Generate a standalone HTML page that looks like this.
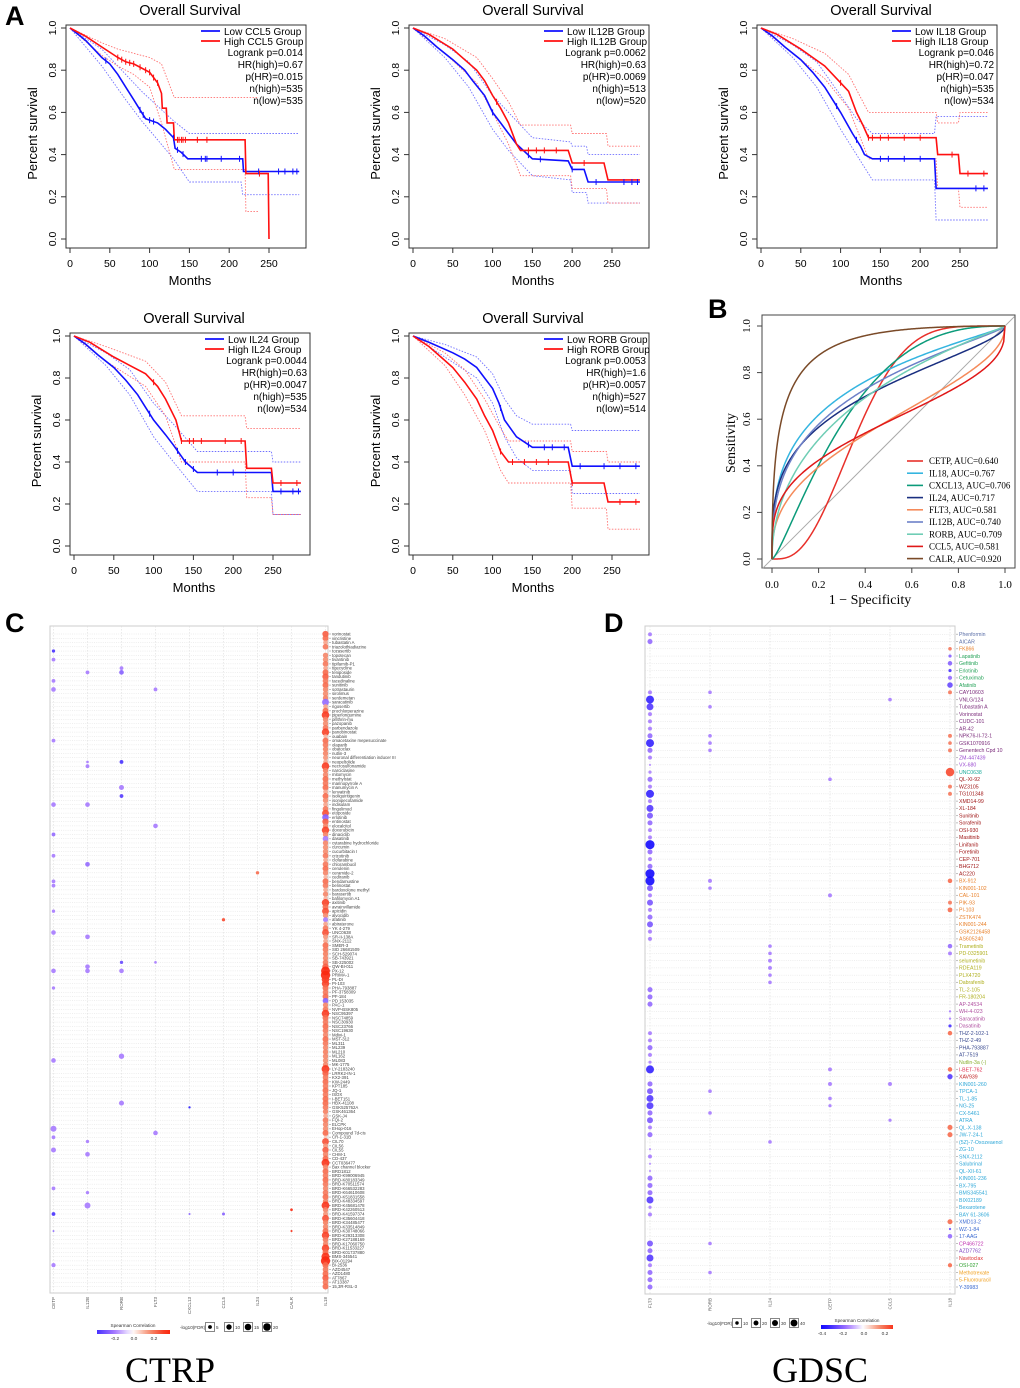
<!DOCTYPE html>
<html><head><meta charset="utf-8">
<style>
html,body{margin:0;padding:0;background:#fff;}
svg{display:block;font-family:"Liberation Sans",Arial,sans-serif;}
</style></head>
<body>
<svg id="fig" width="1020" height="1388" viewBox="0 0 1020 1388" xmlns="http://www.w3.org/2000/svg">
<rect x="0" y="0" width="1020" height="1388" fill="#fff"/>
<text x="5" y="25" font-size="27" font-weight="bold">A</text>
<text x="708" y="318" font-size="27" font-weight="bold">B</text>
<text x="5" y="632" font-size="27" font-weight="bold">C</text>
<text x="604" y="632" font-size="27" font-weight="bold">D</text>
<text x="170" y="1382" font-size="36" text-anchor="middle" font-family="Liberation Serif,serif">CTRP</text>
<text x="820" y="1382" font-size="36" text-anchor="middle" font-family="Liberation Serif,serif">GDSC</text>
</svg>
<script>
// ================= KM data =================
const kmGenes = ["CCL5","IL12B","IL18","IL24","RORB"];
const kmLogrank = ["0.014","0.0062","0.046","0.0044","0.0053"];
const kmHR = ["0.67","0.63","0.72","0.63","1.6"];
const kmPHR = ["0.015","0.0069","0.047","0.0047","0.0057"];
const kmNHigh = ["535","513","535","535","527"];
const kmNLow = ["535","520","534","534","514"];
const kmXTicks = [0,50,100,150,200,250];
const kmYTicks = [0,0.2,0.4,0.6,0.8,1.0];
const kmLow = [
 [[0,1],[10,0.97],[20,0.94],[30,0.9],[40,0.86],[50,0.83],[60,0.78],[70,0.72],[80,0.66],[90,0.6],[95,0.57],[110,0.55],[120,0.52],[130,0.48],[132,0.43],[140,0.41],[148,0.38],[217,0.38],[218,0.32],[288,0.32]],
 [[0,1],[15,0.96],[30,0.91],[50,0.85],[65,0.8],[75,0.75],[90,0.68],[100,0.6],[110,0.55],[120,0.5],[130,0.45],[150,0.38],[195,0.37],[200,0.33],[215,0.33],[220,0.27],[285,0.27]],
 [[0,1],[15,0.96],[30,0.91],[50,0.85],[65,0.79],[80,0.72],[90,0.66],[100,0.6],[115,0.5],[125,0.44],[130,0.4],[140,0.38],[218,0.38],[220,0.24],[285,0.24]],
 [[0,1],[15,0.96],[30,0.91],[50,0.85],[65,0.79],[80,0.72],[90,0.66],[100,0.6],[115,0.53],[125,0.48],[140,0.4],[155,0.35],[248,0.35],[250,0.26],[285,0.26]],
 [[0,1],[20,0.97],[50,0.92],[65,0.89],[80,0.85],[90,0.8],[100,0.75],[108,0.68],[115,0.6],[130,0.52],[150,0.47],[195,0.47],[200,0.38],[285,0.38]]
];
const kmHigh = [
 [[0,1],[20,0.96],[40,0.91],[60,0.86],[70,0.84],[80,0.83],[100,0.79],[110,0.74],[115,0.69],[116,0.62],[121,0.62],[122,0.55],[130,0.55],[131,0.47],[220,0.47],[221,0.31],[249,0.31],[250,0]],
 [[0,1],[20,0.97],[50,0.9],[65,0.85],[80,0.8],[90,0.75],[100,0.68],[110,0.62],[120,0.55],[130,0.45],[135,0.42],[195,0.42],[200,0.36],[240,0.36],[245,0.28],[285,0.28]],
 [[0,1],[20,0.97],[50,0.9],[65,0.86],[80,0.82],[95,0.76],[110,0.7],[120,0.6],[128,0.54],[135,0.48],[220,0.48],[222,0.4],[248,0.4],[250,0.31],[285,0.31]],
 [[0,1],[20,0.97],[50,0.9],[70,0.86],[90,0.82],[105,0.76],[115,0.7],[128,0.6],[135,0.5],[215,0.5],[217,0.37],[248,0.37],[250,0.3],[285,0.3]],
 [[0,1],[20,0.95],[35,0.9],[50,0.85],[65,0.78],[80,0.7],[90,0.62],[100,0.55],[110,0.45],[120,0.4],[195,0.4],[200,0.3],[240,0.3],[245,0.21],[285,0.21]]
];
const kmLowUp = [
 [[0,1],[40,0.9],[70,0.78],[90,0.7],[110,0.63],[130,0.56],[150,0.5],[288,0.5]],
 [[0,1],[40,0.92],[70,0.84],[100,0.68],[120,0.6],[150,0.48],[198,0.46],[200,0.44],[218,0.44],[220,0.4],[285,0.4]],
 [[0,1],[40,0.92],[70,0.84],[100,0.68],[120,0.57],[140,0.5],[218,0.5],[220,0.58],[285,0.58]],
 [[0,1],[40,0.92],[70,0.84],[100,0.68],[125,0.58],[155,0.45],[248,0.45],[250,0.4],[285,0.4]],
 [[0,1],[40,0.96],[80,0.9],[100,0.82],[115,0.7],[130,0.62],[150,0.58],[198,0.58],[200,0.55],[285,0.55]]
];
const kmLowLo = [
 [[0,1],[40,0.82],[70,0.66],[90,0.56],[110,0.47],[130,0.38],[150,0.27],[215,0.27],[217,0.21],[288,0.21]],
 [[0,1],[40,0.86],[70,0.72],[100,0.52],[120,0.42],[150,0.3],[198,0.28],[200,0.22],[218,0.22],[220,0.17],[285,0.17]],
 [[0,1],[40,0.86],[70,0.72],[100,0.52],[120,0.4],[140,0.28],[218,0.28],[220,0.09],[285,0.09]],
 [[0,1],[40,0.86],[70,0.72],[100,0.52],[125,0.4],[155,0.26],[248,0.26],[250,0.15],[285,0.15]],
 [[0,1],[40,0.9],[80,0.8],[100,0.68],[115,0.52],[130,0.42],[150,0.36],[198,0.36],[200,0.25],[285,0.25]]
];
const kmHighUp = [
 [[0,1],[40,0.93],[60,0.9],[80,0.88],[100,0.86],[115,0.83],[131,0.67],[237,0.67]],
 [[0,1],[40,0.95],[80,0.86],[100,0.76],[120,0.65],[135,0.54],[198,0.54],[200,0.5],[243,0.5],[245,0.44],[285,0.44]],
 [[0,1],[40,0.95],[80,0.88],[110,0.78],[128,0.65],[135,0.6],[220,0.6],[222,0.55],[248,0.55],[250,0.6],[285,0.6]],
 [[0,1],[40,0.95],[90,0.88],[115,0.78],[135,0.62],[215,0.62],[217,0.56],[285,0.56]],
 [[0,1],[40,0.92],[65,0.84],[90,0.7],[110,0.56],[120,0.5],[198,0.5],[200,0.45],[243,0.45],[245,0.4],[285,0.4]]
];
const kmHighLo = [
 [[0,1],[40,0.87],[60,0.82],[80,0.78],[100,0.72],[115,0.55],[131,0.33],[220,0.33],[221,0.13],[237,0.13]],
 [[0,1],[40,0.88],[80,0.74],[100,0.6],[120,0.45],[135,0.3],[198,0.3],[200,0.24],[243,0.24],[245,0.17],[285,0.17]],
 [[0,1],[40,0.88],[80,0.76],[110,0.62],[128,0.45],[135,0.38],[220,0.38],[222,0.24],[248,0.24],[250,0.15],[285,0.15]],
 [[0,1],[40,0.88],[90,0.76],[115,0.62],[135,0.4],[215,0.4],[217,0.23],[248,0.23],[250,0.15],[285,0.15]],
 [[0,1],[40,0.86],[65,0.72],[90,0.55],[110,0.36],[120,0.3],[198,0.3],[200,0.18],[243,0.18],[245,0.08],[285,0.08]]
];
const kmCensorLow = [
 [45,88,92,100,105,130,135,142,165,170,172,190,213,237,262,270,280,285],
 [100,145,160,200,230,265,275,282],
 [95,120,150,160,180,200,270,280],
 [95,130,140,150,180,200,260,275,282],
 [110,145,165,175,190,210,240,260,280]
];
const kmCensorHigh = [
 [60,65,70,75,80,88,95,100,105,110,135,137,140,142,145,160,172,238],
 [105,145,155,165,180,215],
 [100,135,140,150,160,180,200,240,260,280],
 [100,135,145,150,160,190,210,260,280],
 [110,125,140,155,170,200,260,280]
];
// ================= ROC data =================
const rocGenes = ["CETP","IL18","CXCL13","IL24","FLT3","IL12B","RORB","CCL5","CALR"];
const rocAUC = [0.640,0.767,0.706,0.717,0.581,0.740,0.709,0.581,0.920];
const rocSlope = [2.2,0.7,1.4,0.6,0.6,0.7,0.8,0.5,1.0];
const rocTicks = [0,0.2,0.4,0.6,0.8,1.0];
// ================= CTRP bubble data =================
const cGenes = ["CETP","IL12B","RORB","FLT3","CXCL13","CCL5","IL24","CALR","IL18"];
const cDrugs = ["vorinostat","vincristine","tubastatin A","triazolothiadiazine","tozasertib","topotecan","tivantinib","tipifarnib-P1","tigecycline","teniposide",
"tandutinib","tacedinaline","sunitinib","sotrastaurin","sirolimus","serdemetan","saracatinib","rigosertib","prochlorperazine","piperlongumine",
"pifithrin-mu","pazopanib","parbendazole","panobinostat","ouabain","omacetaxine mepesuccinate","olaparib","obatoclax","nutlin-3","neuronal differentiation inducer III",
"neopeltolide","necrosulfonamide","narciclasine","mitomycin","methylstat","marinopyrrole A","manumycin A","lenvatinib","isoliquiritigenin","isonipecotamide",
"indisulam","fingolimod","etoposide","erlotinib","entinostat","elocalcitol","doxorubicin","dinaciclib","dasatinib","cytarabine hydrochloride",
"curcumin","cucurbitacin I","crizotinib","clofarabine","chlorambucil","cerulenin","ceramide-2","cediranib","bendamustine","belinostat",
"bardoxolone methyl","barasertib","bafilomycin A1","axitinib","avrainvillamide","apicidin","alvocidib","afatinib","abiraterone","YK 4-279",
"UNC0638","SR-II-138A","SNX-2112","SMER-3","SID 26681509","SCH-529074","SB-743921","SB-225002","QW-BI-011","PX-12",
"PRIMA-1","PL-DI","PI-103","PHA-793887","PF-3758309","PF-184","PD 153035","PAC-1","NVP-BSK805","NSC95397",
"NSC74859","NSC30930","NSC23766","NSC19630","Mdivi-1","MST-312","ML311","ML239","ML210","ML162",
"ML083","MK-1775","LY-2183240","LRRK2-IN-1","KX2-391","KW-2449","KPT185","JQ-1","ISOX","I-BET151",
"HBX-41108","GSK525762A","GSK461364","GSK-J4","FQI-2","ELCPK","EHop-016","Compound 7d-cis","CR-1-31B","CIL70",
"CIL56","CIL55","CHM-1","CD-437","CCT036477","Bax channel blocker","BRD1812","BRD-K99006945","BRD-K80183349","BRD-K70511574",
"BRD-K66532283","BRD-K64610608","BRD-K51831558","BRD-K48334597","BRD-K45681478","BRD-K42260513","BRD-K41597374","BRD-K35604418","BRD-K34485477","BRD-K33514849",
"BRD-K30748066","BRD-K29313308","BRD-K27188169","BRD-K17060750","BRD-K11533227","BRD-K01737880","BMS-345541","BIX-01294","BI-2536","AZD4547",
"AZD1480","AT7867","AT13387","15,3R-RSL-3"];
const cIL18Corr = [0.22,0.2,0.12,0.18,0,0.16,0.15,0.18,0.12,0.2,
 0.22,0.18,0.2,0.16,0.15,0.17,-0.18,0.12,0.2,0.27,
 0.16,0.15,0.18,0.26,0.1,0.2,0.18,0.17,0.16,0.14,
 0.12,0.27,0.17,0.16,0.2,0.18,0.2,0.12,0.2,0.15,
 0.12,0.18,0.24,-0.2,0.22,0.16,0.26,0.16,-0.15,0.16,
 0.15,0.15,0.18,0.12,0.18,0.2,0.16,0.1,0.2,0.18,
 0.12,0.16,0.1,0.26,0.2,0.24,0.15,-0.15,0.12,0.18,
 0.24,0.14,0.12,0.2,0.18,0.17,0.16,0.18,0.22,0.3,
 0.3,0.27,0.26,0.2,0.18,0.2,-0.2,0.16,0.18,0.27,
 0.2,0.18,0.2,0.18,0.16,0.2,0.18,0.16,0.17,0.16,
 0.15,0.16,0.28,0.22,0.18,0.2,0.18,0.2,0.18,0.2,
 0.2,0.18,0.17,0.12,0.18,0.16,0.15,0.2,0.08,0.24,
 0.14,0.22,0.16,0.2,0.28,0.16,0.2,0.18,0.2,0.18,
 0.16,0.18,0.2,0.17,0.28,0.16,0.14,0.24,0.17,0.16,
 0.2,0.26,0.18,0.16,0.26,0.2,0.28,0.3,0.2,0.18,
 0.2,0.22,0.18,0.2];
const cIL18Fdr = [11,10,6,9,0,8,8,9,6,10,
 11,9,10,8,8,8,13,6,10,16,
 8,8,9,15,5,10,9,8,8,7,
 6,16,8,8,10,9,10,6,10,8,
 6,9,13,12,11,8,15,8,9,8,
 8,8,9,6,9,10,8,5,10,9,
 6,8,5,15,10,13,8,7,6,9,
 13,7,6,10,9,8,8,9,11,22,
 24,16,15,10,9,10,9,8,9,16,
 10,9,10,9,8,10,9,8,8,8,
 8,8,17,11,9,10,9,10,9,10,
 10,9,8,6,9,8,8,10,3,13,
 7,11,8,10,17,8,10,9,10,9,
 8,9,10,8,17,8,7,13,8,8,
 10,15,9,8,15,10,18,24,10,9,
 10,11,9,10];
// sparse points: [row, geneIndex, correlation, -log10FDR]
const cPoints = [[4,0,-0.3,3],[6,0,-0.15,4],[8,2,-0.15,4],[9,1,-0.15,4],[9,2,-0.2,6],[11,0,-0.15,4],[13,0,-0.15,6],[13,3,-0.15,4],[25,0,-0.15,4],[30,1,-0.15,2],[30,2,-0.3,4],[31,1,-0.15,4],[36,2,-0.15,7],[38,2,-0.28,4],[40,0,-0.15,6],[40,1,-0.15,6],[45,3,-0.15,6],[47,0,-0.18,4],[52,0,-0.15,4],[54,1,-0.18,6],[56,6,0.2,3],[58,0,-0.15,4],[59,0,-0.15,4],[65,0,-0.15,3],[67,5,0.25,3],[70,0,-0.15,6],[71,1,-0.15,6],[77,2,-0.25,3],[77,3,-0.15,2],[78,1,-0.15,6],[79,0,-0.15,6],[79,1,-0.15,6],[79,2,-0.15,6],[83,0,-0.15,3],[99,2,-0.15,8],[100,0,-0.15,6],[110,2,-0.15,7],[111,4,-0.35,1.5],[116,0,-0.15,10],[117,3,-0.15,6],[118,0,-0.15,4],[119,1,-0.15,3],[121,0,-0.15,7],[122,1,-0.15,6],[130,0,-0.15,4],[131,1,-0.15,3],[134,1,-0.15,10],[135,7,0.3,2],[136,0,-0.3,4],[136,4,-0.2,1.2],[136,5,-0.2,2.5],[140,0,-0.2,1],[140,7,0.3,1.2],[148,0,-0.15,5]];
const cLegendSizes = [5,10,15,20];
const cLegendTicks = ["-0.2","0.0","0.2"];
// ================= GDSC bubble data =================
const dGenes = ["FLT3","RORB","IL24","CETP","CCL5","IL18"];
const dDrugs = ["Phenformin","AICAR","FK866","Lapatinib","Gefitinib","Erlotinib","Cetuximab","Afatinib","CAY10603","VNLG/124",
"Tubastatin A","Vorinostat","CUDC-101","AR-42","NPK76-II-72-1","GSK1070916","Genentech Cpd 10","ZM-447439","VX-680","UNC0638",
"QL-XI-92","WZ3105","TG101348","XMD14-99","XL-184","Sunitinib","Sorafenib","OSI-930","Masitinib","Linifanib",
"Foretinib","CEP-701","BHG712","AC220","BX-912","KIN001-102","CAL-101","PIK-93","PI-103","ZSTK474",
"KIN001-244","GSK2126458","AS605240","Trametinib","PD-0325901","selumetinib","RDEA119","PLX4720","Dabrafenib","TL-2-105",
"FR-180204","AP-24534","WH-4-023","Saracatinib","Dasatinib","THZ-2-102-1","THZ-2-49","PHA-793887","AT-7519","Nutlin-3a (-)",
"I-BET-762","XAV939","KIN001-260","TPCA-1","TL-1-85","NG-25","CX-5461","ATRA","QL-X-138","JW-7-24-1",
"(5Z)-7-Oxozeaenol","ZG-10","SNX-2112","Salubrinal","QL-XII-61","KIN001-236","BX-795","BMS345541","BIX02189","Bexarotene",
"BAY 61-3606","XMD13-2","WZ-1-84","17-AAG","CP466722","AZD7762","Navitoclax","OSI-027","Methotrexate","5-Fluorouracil","Y-39983"];
const dGroupColors = ["#5b6fa8","#5b6fa8","#e8802a","#27a35a","#27a35a","#27a35a","#27a35a","#27a35a","#7a2a7a","#7a2a7a",
"#7a2a7a","#7a2a7a","#7a2a7a","#7a2a7a","#7a2a7a","#7a2a7a","#7a2a7a","#9a4ad0","#9a4ad0","#1aaa9a",
"#a01818","#a01818","#a01818","#a01818","#a01818","#a01818","#a01818","#a01818","#a01818","#a01818",
"#a01818","#a01818","#a01818","#a01818","#e8802a","#e8802a","#e8802a","#e8802a","#e8802a","#e8802a",
"#e8802a","#e8802a","#e8802a","#b0b020","#b0b020","#b0b020","#b0b020","#b0b020","#b0b020","#b0b020",
"#b0b020","#b050a0","#b050a0","#b050a0","#b050a0","#3a4a90","#3a4a90","#3a4a90","#3a4a90","#8ab030",
"#e03050","#c02020","#30a8d8","#30a8d8","#30a8d8","#30a8d8","#30a8d8","#30a8d8","#30a8d8","#30a8d8",
"#30a8d8","#30a8d8","#30a8d8","#30a8d8","#30a8d8","#30a8d8","#30a8d8","#30a8d8","#30a8d8","#30a8d8",
"#30a8d8","#3a6ad0","#3a6ad0","#3a6ad0","#c030b0","#8040c0","#e03030","#30a030","#f0a020","#f0a020","#3a6ad0"];
const dFlt3Fdr = [6,10,0,0,0,0,0,0,6,25,
 19,6,6,6,10,25,10,6,2,4,
 10,6,25,6,19,14,10,6,6,32,
 10,6,10,32,32,14,6,14,6,10,
 14,6,6,0,0,0,0,0,0,10,
 10,10,0,0,0,6,6,10,6,4,
 25,0,10,14,19,19,10,14,6,10,
 0,2,6,2,2,10,10,10,19,4,
 6,0,0,0,14,10,19,6,10,10,10];
const dFlt3Corr = [-0.15,-0.18,0,0,0,0,0,0,-0.15,-0.33,
 -0.28,-0.15,-0.15,-0.15,-0.18,-0.33,-0.18,-0.15,-0.12,-0.14,
 -0.18,-0.15,-0.33,-0.15,-0.28,-0.22,-0.18,-0.15,-0.15,-0.38,
 -0.18,-0.15,-0.18,-0.38,-0.38,-0.22,-0.15,-0.22,-0.15,-0.18,
 -0.22,-0.15,-0.15,0,0,0,0,0,0,-0.18,
 -0.18,-0.18,0,0,0,-0.15,-0.15,-0.18,-0.15,-0.14,
 -0.33,0,-0.18,-0.22,-0.28,-0.28,-0.18,-0.22,-0.15,-0.18,
 0,-0.12,-0.15,-0.12,-0.12,-0.18,-0.18,-0.18,-0.28,-0.14,
 -0.15,0,0,0,-0.22,-0.18,-0.28,-0.15,-0.18,-0.18,-0.18];
// sparse points: [rowNumber(1-based), geneIndex, correlation, -log10FDR]
const dPoints = [[9,1,-0.15,5],[11,1,-0.15,5],[15,1,-0.15,5],[16,1,-0.15,5],[17,1,-0.15,5],[35,1,-0.15,6],[36,1,-0.15,5],[64,1,-0.15,5],[67,1,-0.15,5],[85,1,-0.15,5],[89,1,-0.15,5],
[44,2,-0.15,5],[45,2,-0.15,5],[46,2,-0.15,6],[47,2,-0.15,6],[48,2,-0.15,5],[49,2,-0.15,5],[71,2,-0.15,5],
[21,3,-0.15,5],[37,3,-0.15,6],[61,3,-0.15,6],[63,3,-0.15,6],[65,3,-0.15,5],[66,3,-0.15,4],
[10,4,-0.15,5],[63,4,-0.15,6],[68,4,-0.15,4],
[3,5,0.18,5],[4,5,-0.2,4],[5,5,-0.2,8],[6,5,-0.3,4],[7,5,-0.18,7],[8,5,-0.25,12],[9,5,0.18,6],[15,5,0.18,6],[16,5,0.18,5],[17,5,0.18,6],[20,5,0.25,28],[22,5,0.18,6],[23,5,0.18,6],[35,5,0.2,8],[38,5,0.18,6],[39,5,0.2,9],[44,5,-0.18,8],[45,5,-0.15,6],[53,5,-0.15,2],[54,5,-0.15,2],[55,5,-0.3,4],[56,5,0.2,8],[61,5,0.2,8],[62,5,-0.28,11],[69,5,0.2,10],[70,5,0.2,10],[82,5,0.2,10],[83,5,-0.25,2],[84,5,-0.18,8],[88,5,0.2,7]];
const dLegendSizes = [10,20,30,40];
const dLegendTicks = ["-0.4","-0.2","0.0","0.2"];

// ================= helpers =================
const NS = 'http://www.w3.org/2000/svg';
const svg = document.getElementById('fig');
function mk(tag, attrs, parent){
  const e = document.createElementNS(NS, tag);
  for (const k in attrs) e.setAttribute(k, attrs[k]);
  (parent || svg).appendChild(e);
  return e;
}
function tx(x, y, s, attrs, parent){
  const e = mk('text', Object.assign({x:x, y:y}, attrs || {}), parent);
  e.textContent = s;
  return e;
}
function mix(a, b, t){ return [0,1,2].map(i => Math.round(a[i] + (b[i]-a[i])*t)); }
function corrColor(c){
  let rgb;
  if (c < 0){
    const t = Math.min(1, -c/0.38);
    rgb = t < 0.4 ? mix([255,255,255],[165,120,255],t/0.4) : mix([165,120,255],[20,10,255],(t-0.4)/0.6);
  } else {
    const t = Math.min(1, c/0.3);
    rgb = t < 0.5 ? mix([255,255,255],[245,140,110],t/0.5) : mix([245,140,110],[250,40,15],(t-0.5)/0.5);
  }
  return 'rgb(' + rgb.join(',') + ')';
}
function lineD(pts, X, Y){
  return pts.map((p, i) => (i ? 'L' : 'M') + X(p[0]).toFixed(1) + ',' + Y(p[1]).toFixed(1)).join(' ');
}
function valAt(pts, t){
  for (let i = 1; i < pts.length; i++){
    if (pts[i][0] >= t){
      const a = pts[i-1], b = pts[i];
      const f = (t - a[0]) / ((b[0] - a[0]) || 1);
      return a[1] + (b[1]-a[1])*f;
    }
  }
  return pts[pts.length-1][1];
}

// ================= KM panels =================
const kmLayout = [
  {x0:70, y1:28, y0:239}, {x0:413, y1:28, y0:239}, {x0:761, y1:28, y0:239},
  {x0:74, y1:336, y0:546}, {x0:413, y1:336, y0:546}
];
const pxPerMonth = 199/250;
kmGenes.forEach((g, i) => {
  const L = kmLayout[i];
  const X = m => L.x0 + m*pxPerMonth;
  const Y = s => L.y0 - s*(L.y0 - L.y1);
  const grp = mk('g', {});
  
  
  const box = mk('rect', {x:L.x0-4, y:L.y1-3, width:240, height:(L.y0-L.y1)+12, fill:'none', stroke:'#333', 'stroke-width':1}, grp);
  
  
  const ttl = tx(L.x0+120, L.y1-13, 'Overall Survival', {'font-size':14.5, 'text-anchor':'middle'}, grp);
  
  
  const bottom = L.y0 + 9;
  kmXTicks.forEach(t => {
    mk('line', {x1:X(t), x2:X(t), y1:bottom, y2:bottom+5, stroke:'#333'}, grp);
    const lb = tx(X(t), bottom+19, String(t), {'font-size':10.5, 'text-anchor':'middle'}, grp);
    
    
  });
  kmYTicks.forEach(t => {
    mk('line', {x1:L.x0-4, x2:L.x0-9, y1:Y(t), y2:Y(t), stroke:'#333'}, grp);
    const lb = tx(0, 0, t.toFixed(1), {'font-size':10.5, 'text-anchor':'middle', transform:'translate(' + (L.x0-14) + ',' + Y(t) + ') rotate(-90)'}, grp);
    
    
  });
  const xt = tx(L.x0+120, bottom+37, 'Months', {'font-size':13, 'text-anchor':'middle'}, grp);
  
  
  const yt = tx(0, 0, 'Percent survival', {'font-size':13, 'text-anchor':'middle', transform:'translate(' + (L.x0-33) + ',' + ((L.y0+L.y1)/2) + ') rotate(-90)'}, grp);
  
  
  // CIs
  [[kmLowUp[i],'#7070ff'],[kmLowLo[i],'#7070ff'],[kmHighUp[i],'#ff7070'],[kmHighLo[i],'#ff7070']].forEach(([pts,col]) => {
    const p = mk('path', {d:lineD(pts, X, Y), fill:'none', stroke:col, 'stroke-width':0.9, 'stroke-dasharray':'1.5,1.5'}, grp);
    
    
  });
  const lowP = mk('path', {d:lineD(kmLow[i], X, Y), fill:'none', stroke:'#1010ff', 'stroke-width':1.6}, grp);
  
  
  const hiP = mk('path', {d:lineD(kmHigh[i], X, Y), fill:'none', stroke:'#ff1010', 'stroke-width':1.6}, grp);
  
  
  kmCensorLow[i].forEach(t => {
    const v = valAt(kmLow[i], t);
    const c = mk('line', {x1:X(t), x2:X(t), y1:Y(v)-3, y2:Y(v)+3, stroke:'#1010ff', 'stroke-width':1}, grp);
    
    
  });
  kmCensorHigh[i].forEach(t => {
    const v = valAt(kmHigh[i], t);
    const c = mk('line', {x1:X(t), x2:X(t), y1:Y(v)-3, y2:Y(v)+3, stroke:'#ff1010', 'stroke-width':1}, grp);
    
    
  });
  // legend
  const lx = L.x0 + 131, ly = L.y1;
  mk('line', {x1:lx, x2:lx+19, y1:ly+3, y2:ly+3, stroke:'#1010ff', 'stroke-width':1.8}, grp);
  mk('line', {x1:lx, x2:lx+19, y1:ly+13, y2:ly+13, stroke:'#ff1010', 'stroke-width':1.8}, grp);
  const l1 = tx(lx+23, ly+7, 'Low ' + g + ' Group', {'font-size':10}, grp);
  
  
  const l2 = tx(lx+23, ly+17, 'High ' + g + ' Group', {'font-size':10}, grp);
  
  
  const stats = ['Logrank p=' + kmLogrank[i], 'HR(high)=' + kmHR[i], 'p(HR)=' + kmPHR[i], 'n(high)=' + kmNHigh[i], 'n(low)=' + kmNLow[i]];
  stats.forEach((s, k) => {
    const st = tx(L.x0+233, ly+28+k*12, s, {'font-size':10, 'text-anchor':'end'}, grp);
    
    
  });
});

// ================= ROC =================
function normCdf(x){
  const t = 1/(1+0.2316419*Math.abs(x));
  const d = 0.3989423*Math.exp(-x*x/2);
  const p = d*t*(0.3193815+t*(-0.3565638+t*(1.781478+t*(-1.821256+t*1.330274))));
  return x > 0 ? 1-p : p;
}
function normInv(p){
  let lo = -8, hi = 8;
  for (let k = 0; k < 60; k++){ const m = (lo+hi)/2; if (normCdf(m) < p) lo = m; else hi = m; }
  return (lo+hi)/2;
}
(function(){
  const X = f => 772 + 233*f;
  const Y = t => 559 - 233*t;
  const g = mk('g', {'font-family':'Liberation Serif,serif'});
  
  
  const fr = mk('rect', {x:762, y:315, width:253, height:253, fill:'none', stroke:'#444'}, g);
  
  
  rocTicks.forEach(t => {
    mk('line', {x1:X(t), x2:X(t), y1:568, y2:573, stroke:'#444'}, g);
    const a = tx(X(t), 588, t.toFixed(1), {'font-size':11, 'text-anchor':'middle'}, g);
    
    
    mk('line', {x1:762, x2:757, y1:Y(t), y2:Y(t), stroke:'#444'}, g);
    const b = tx(0, 0, t.toFixed(1), {'font-size':11, 'text-anchor':'middle', transform:'translate(750,' + Y(t) + ') rotate(-90)'}, g);
    
    
  });
  const xt = tx(870, 604, '1 \u2212 Specificity', {'font-size':14, 'text-anchor':'middle'}, g);
  
  
  const yt = tx(0, 0, 'Sensitivity', {'font-size':14, 'text-anchor':'middle', transform:'translate(735,443) rotate(-90)'}, g);
  
  
  const dg = mk('line', {x1:X(-0.04), y1:Y(-0.04), x2:X(1.04), y2:Y(1.04), stroke:'#aaa', 'stroke-width':1}, g);
  
  
  const cols = ['#e8302a','#35b5e0','#0b9b7a','#1a2f80','#f58a5a','#6d80c8','#6fcdb5','#e01818','#7a4a28'];
  rocGenes.forEach((gene, i) => {
    const b = rocSlope[i];
    const a = normInv(rocAUC[i]) * Math.sqrt(1 + b*b);
    let d = 'M' + X(0) + ',' + Y(0);
    for (let k = 1; k < 400; k++){
      const f = Math.pow(k/400, 2.2);
      const t = normCdf(a + b*normInv(f));
      d += ' L' + X(f).toFixed(2) + ',' + Y(t).toFixed(2);
    }
    d += ' L' + X(1) + ',' + Y(1);
    const p = mk('path', {d:d, fill:'none', stroke:cols[i], 'stroke-width':1.5}, g);
    
    
    const ly = 461 + i*12.2;
    mk('line', {x1:907, x2:923, y1:ly, y2:ly, stroke:cols[i], 'stroke-width':1.6}, g);
    const lt = tx(929, ly+3.2, gene + ', AUC=' + rocAUC[i].toFixed(3), {'font-size':9}, g);
    
    
  });
})();

// ================= Bubble plots =================
function bubblePlot(opt){
  const g = mk('g', {});
  
  
  const n = opt.drugs.length;
  const rowY = r => opt.top + r*(opt.bottom - opt.top)/(n-1);
  const colX = c => opt.colX0 + c*opt.colStep;
  const fr = mk('rect', {x:opt.bx0, y:opt.by0, width:opt.bx1-opt.bx0, height:opt.by1-opt.by0, fill:'#fff', stroke:'#ccc', 'stroke-width':1}, g);
  
  
  for (let r = 0; r < n; r++)
    mk('line', {x1:opt.bx0, x2:opt.bx1, y1:rowY(r), y2:rowY(r), stroke:'#ddd', 'stroke-width':0.5, 'stroke-dasharray':'1,1.2'}, g);
  opt.genes.forEach((gn, c) => {
    mk('line', {x1:colX(c), x2:colX(c), y1:opt.by0, y2:opt.by1, stroke:'#ddd', 'stroke-width':0.6, 'stroke-dasharray':'1.5,1.5'}, g);
    const t = tx(0, 0, gn, {'font-size':4.5, fill:'#555', 'text-anchor':'end', transform:'translate(' + (colX(c)+1.5) + ',' + (opt.by1+4) + ') rotate(-90)'}, g);
    
    
  });
  opt.drugs.forEach((d, r) => {
    mk('circle', {cx:opt.bx1+2, cy:rowY(r), r:0.5, fill:'#555'}, g);
    const t = tx(opt.bx1+4, rowY(r)+opt.fs*0.35, d, {'font-size':opt.fs, fill:opt.labelColors ? opt.labelColors[r] : '#444'}, g);
    
    
  });
  return {g, rowY, colX};
}
function dot(P, row, col, corr, fdr, k, parent){
  if (!fdr) return;
  const c = mk('circle', {cx:P.colX(col), cy:P.rowY(row), r:(k*Math.sqrt(fdr)).toFixed(2), fill:corrColor(corr), 'fill-opacity':0.9}, parent);
  
  
}
// CTRP
const C = bubblePlot({name:'ctrp-bubble-plot', drugs:cDrugs, genes:cGenes, top:634, bottom:1286.5, colX0:53.5, colStep:34.0, bx0:50, bx1:328, by0:626, by1:1293, fs:4.3});
const kC = 0.95;
cIL18Fdr.forEach((f, r) => dot(C, r, 8, cIL18Corr[r], f, kC, C.g));
cPoints.forEach(p => dot(C, p[0], p[1], p[2], p[3], kC, C.g));
// GDSC
const D = bubblePlot({name:'gdsc-bubble-plot', drugs:dDrugs, genes:dGenes, top:634.3, bottom:1287, colX0:650, colStep:60, bx0:645, bx1:955, by0:626, by1:1294, fs:5.2, labelColors:dGroupColors});
const kD = 0.8;
dFlt3Fdr.forEach((f, r) => dot(D, r, 0, dFlt3Corr[r], f, kD, D.g));
dPoints.forEach(p => dot(D, p[0]-1, p[1], p[2], p[3], kD, D.g));

// ================= Legends =================
function gradBar(id, x, y, w, h, lo, hi, ticks, tickXs){
  const defs = mk('defs', {});
  const lg = mk('linearGradient', {id:id, x1:0, x2:1, y1:0, y2:0}, defs);
  const nStop = 12;
  for (let k = 0; k <= nStop; k++){
    const c = lo + (hi-lo)*k/nStop;
    mk('stop', {offset:(k/nStop), 'stop-color':corrColor(c)}, lg);
  }
  const r = mk('rect', {x:x, y:y, width:w, height:h, fill:'url(#' + id + ')'});
  
  
  ticks.forEach((t, i) => {
    const tt = tx(tickXs[i], y+h+6, t, {'font-size':4.8, 'text-anchor':'middle', fill:'#333'});
    
    
  });
}
function sizeLegend(x, y, title, sizes, k, step){
  const t = tx(x, y+2, title, {'font-size':4.6, fill:'#333'});
  
  
  let cx = x + 30;
  sizes.forEach(s => {
    const r = k*Math.sqrt(s);
    const b = mk('rect', {x:cx-4.5, y:y-4.5, width:9, height:9, fill:'#fff', stroke:'#555', 'stroke-width':0.7});
    
    
    const c = mk('circle', {cx:cx, cy:y, r:r, fill:'#000'});
    
    
    const l = tx(cx+6, y+2, String(s), {'font-size':4.6, fill:'#333'});
    
    
    cx += step;
  });
}
const ct = tx(133, 1327, 'Spearman Correlation', {'font-size':4.6, 'text-anchor':'middle', fill:'#333'});


gradBar('gradC', 97, 1330, 73, 4, -0.3, 0.32, cLegendTicks, [115, 134, 154]);
sizeLegend(180, 1327, '-log10(FDR)', cLegendSizes, 0.85, 19);
const dt = tx(857, 1322, 'Spearman Correlation', {'font-size':4.6, 'text-anchor':'middle', fill:'#333'});


gradBar('gradD', 821, 1325, 72, 4, -0.4, 0.28, dLegendTicks, [822, 843, 864, 885]);
sizeLegend(707, 1323, '-log10(FDR)', dLegendSizes, 0.55, 19);
</script>
</body></html>
